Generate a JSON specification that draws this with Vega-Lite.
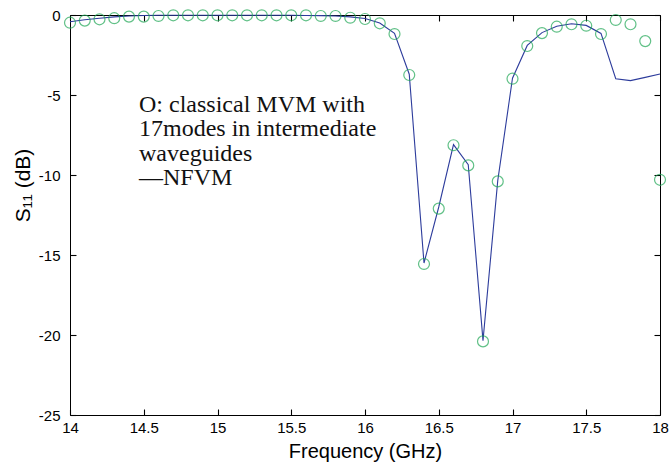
{
  "$schema": "https://vega.github.io/schema/vega-lite/v6.json",
  "width": 590,
  "height": 400,
  "autosize": {"type": "none"},
  "padding": {"left": 70, "top": 15, "right": 9, "bottom": 51},
  "background": "white",
  "config": {
    "view": {"stroke": "#000", "strokeWidth": 1},
    "axis": {
      "grid": false,
      "domain": false,
      "ticks": true,
      "zindex": 1,
      "labelFont": "Liberation Sans",
      "labelFontSize": 15,
      "labelColor": "#000",
      "tickColor": "#000",
      "tickSize": 6,
      "tickWidth": 1.1,
      "offset": -6,
      "titleFont": "Liberation Sans",
      "titleColor": "#000",
      "titleFontWeight": "normal"
    }
  },
  "datasets": {
    "s11": [
      {"freq": 14.0, "mvm": -0.48, "nfvm": -0.42},
      {"freq": 14.1, "mvm": -0.35, "nfvm": -0.3},
      {"freq": 14.2, "mvm": -0.27, "nfvm": -0.2},
      {"freq": 14.3, "mvm": -0.2, "nfvm": -0.12},
      {"freq": 14.4, "mvm": -0.1, "nfvm": -0.06},
      {"freq": 14.5, "mvm": -0.1, "nfvm": -0.03},
      {"freq": 14.6, "mvm": -0.06, "nfvm": -0.02},
      {"freq": 14.7, "mvm": -0.02, "nfvm": -0.02},
      {"freq": 14.8, "mvm": -0.02, "nfvm": -0.02},
      {"freq": 14.9, "mvm": -0.02, "nfvm": -0.02},
      {"freq": 15.0, "mvm": -0.02, "nfvm": -0.02},
      {"freq": 15.1, "mvm": -0.02, "nfvm": -0.02},
      {"freq": 15.2, "mvm": -0.02, "nfvm": -0.02},
      {"freq": 15.3, "mvm": -0.02, "nfvm": -0.02},
      {"freq": 15.4, "mvm": -0.02, "nfvm": -0.02},
      {"freq": 15.5, "mvm": -0.02, "nfvm": -0.02},
      {"freq": 15.6, "mvm": -0.02, "nfvm": -0.03},
      {"freq": 15.7, "mvm": -0.06, "nfvm": -0.04},
      {"freq": 15.8, "mvm": -0.06, "nfvm": -0.06},
      {"freq": 15.9, "mvm": -0.17, "nfvm": -0.12},
      {"freq": 16.0, "mvm": -0.25, "nfvm": -0.22},
      {"freq": 16.1, "mvm": -0.52, "nfvm": -0.5},
      {"freq": 16.2, "mvm": -1.19, "nfvm": -1.15},
      {"freq": 16.3, "mvm": -3.75, "nfvm": -3.7},
      {"freq": 16.4, "mvm": -15.56, "nfvm": -15.5},
      {"freq": 16.5, "mvm": -12.1, "nfvm": -12.0},
      {"freq": 16.6, "mvm": -8.14, "nfvm": -8.1},
      {"freq": 16.7, "mvm": -9.4, "nfvm": -9.35},
      {"freq": 16.8, "mvm": -20.4, "nfvm": -20.35},
      {"freq": 16.9, "mvm": -10.4, "nfvm": -10.35},
      {"freq": 17.0, "mvm": -3.98, "nfvm": -3.95},
      {"freq": 17.1, "mvm": -1.94, "nfvm": -1.9},
      {"freq": 17.2, "mvm": -1.13, "nfvm": -1.1},
      {"freq": 17.3, "mvm": -0.73, "nfvm": -0.7},
      {"freq": 17.4, "mvm": -0.58, "nfvm": -0.55},
      {"freq": 17.5, "mvm": -0.67, "nfvm": -0.65},
      {"freq": 17.6, "mvm": -1.19, "nfvm": -1.15},
      {"freq": 17.7, "mvm": -0.31, "nfvm": -3.98},
      {"freq": 17.8, "mvm": -0.58, "nfvm": -4.1},
      {"freq": 17.9, "mvm": -1.63, "nfvm": -3.9},
      {"freq": 18.0, "mvm": -10.3, "nfvm": -3.69}
    ],
    "note": [
      {"label": ["O: classical MVM with", "17modes in intermediate", "waveguides", "—NFVM"]}
    ]
  },
  "layer": [
    {
      "data": {"name": "s11"},
      "mark": {"type": "line", "color": "#2d3c9c", "strokeWidth": 1.1},
      "encoding": {
        "x": {
          "field": "freq", "type": "quantitative",
          "scale": {"domain": [14, 18], "nice": false, "zero": false},
          "axis": {
            "orient": "bottom",
            "values": [14, 14.5, 15, 15.5, 16, 16.5, 17, 17.5, 18],
            "labelExpr": "toString(datum.value)",
            "labelPadding": 5,
            "labelFlush": false,
            "title": "Frequency (GHz)",
            "titleFontSize": 20,
            "titleBaseline": "alphabetic",
            "titleY": 48
          }
        },
        "y": {
          "field": "nfvm", "type": "quantitative",
          "scale": {"domain": [-25, 0], "nice": false, "zero": false},
          "axis": {
            "orient": "left",
            "values": [0, -5, -10, -15, -20, -25],
            "labelExpr": "toString(datum.value)",
            "labelPadding": 10,
            "labelFlush": false,
            "title": "S₁₁ (dB)",
            "titleFontSize": 21,
            "titleAngle": -90,
            "titleAlign": "center",
            "titleBaseline": "middle",
            "titleX": -53,
            "titleY": 170
          }
        }
      }
    },
    {
      "data": {"name": "s11"},
      "mark": {"type": "point", "shape": "circle", "filled": false, "color": "#1fa755", "strokeWidth": 1.2, "size": 120},
      "encoding": {
        "x": {
          "field": "freq", "type": "quantitative",
          "scale": {"domain": [14, 18], "nice": false, "zero": false},
          "axis": {"orient": "top", "values": [14, 14.5, 15, 15.5, 16, 16.5, 17, 17.5, 18], "labels": false, "title": null}
        },
        "y": {
          "field": "mvm", "type": "quantitative",
          "scale": {"domain": [-25, 0], "nice": false, "zero": false},
          "axis": {"orient": "right", "values": [0, -5, -10, -15, -20, -25], "labels": false, "title": null}
        }
      }
    },
    {
      "data": {"name": "note"},
      "mark": {"type": "text", "font": "Liberation Serif", "fontSize": 24, "align": "left", "baseline": "alphabetic", "lineHeight": 24.5, "color": "#111"},
      "encoding": {
        "x": {"datum": 14.468, "type": "quantitative", "axis": null},
        "y": {"datum": -6.06, "type": "quantitative", "axis": null},
        "text": {"field": "label"}
      }
    }
  ],
  "resolve": {"axis": {"x": "independent", "y": "independent"}}
}
